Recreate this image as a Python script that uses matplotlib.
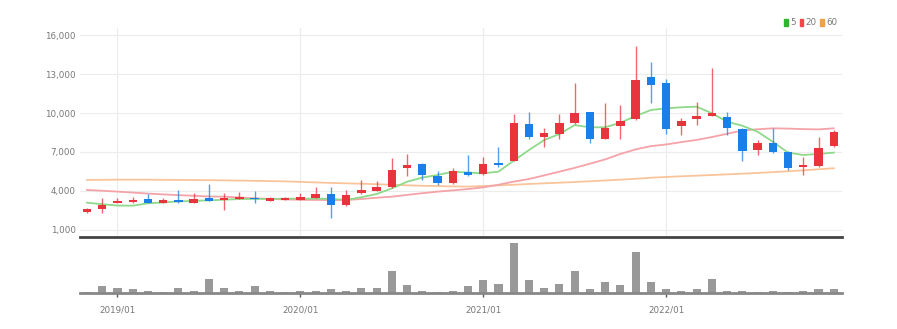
import matplotlib
matplotlib.use("Agg")
import matplotlib.pyplot as plt
from matplotlib import font_manager
from matplotlib.patches import Patch
import numpy as np

# monthly candles, 2018/11 .. 2022/12
months = [f"{y}/{m:02d}" for y in range(2018, 2023) for m in range(1, 13)][10:]
opens = [2360, 2640, 3080, 3150, 3390, 3100, 3290, 3080, 3440, 3310,
         3410, 3490, 3260, 3310, 3330, 3460, 3750, 2900, 3820, 4030,
         4290, 5750, 6050, 5130, 4590, 5490, 5280, 6180, 6310, 9150,
         8180, 8360, 9200, 10080, 8025, 9025, 9565, 12750, 12280, 9025,
         9515, 9800, 9720, 8800, 7150, 7665, 7000, 5870, 5920, 7450]
highs = [2680, 3480, 3480, 3560, 3770, 3480, 4050, 3850, 4520, 3870,
         3920, 4000, 3560, 3500, 3870, 4280, 4280, 4080, 4850, 4800,
         6560, 6850, 6180, 5540, 5750, 6770, 6640, 7410, 9920, 10080,
         8870, 9920, 12330, 10100, 10740, 10615, 15150, 13950, 12590, 9590,
         10820, 13460, 10100, 8830, 7925, 8820, 7050, 6640, 8180, 8690]
lows = [2300, 2290, 3050, 3100, 3050, 3080, 3080, 3050, 3200, 2540,
        3380, 3080, 3200, 3280, 3300, 3440, 1950, 2880, 3800, 4000,
        4250, 5150, 4850, 4460, 4560, 5150, 5250, 5870, 6280, 8000,
        7410, 7980, 9150, 7720, 7980, 7975, 9500, 10740, 8385, 8280,
        9100, 9750, 8280, 6310, 6745, 6900, 5590, 5230, 5870, 7360]
closes = [2620, 2950, 3230, 3330, 3100, 3290, 3150, 3410, 3260, 3490,
          3520, 3360, 3440, 3440, 3520, 3800, 2900, 3720, 4080, 4280,
          5590, 6000, 5230, 4590, 5520, 5230, 6050, 5975, 9210, 8180,
          8440, 9210, 9980, 8000, 8820, 9385, 12540, 12150, 8750, 9385,
          9770, 9975, 8820, 7100, 7665, 7020, 5745, 6025, 7280, 8575]
volumes = [0.7, 7, 5.3, 3.7, 2.3, 1, 5.3, 2, 14, 5,
           2, 6.7, 2.3, 0.7, 2, 2, 3.7, 2.3, 5.3, 5.3,
           22, 8, 2.3, 0.7, 2, 6.7, 13, 9, 48.7, 13,
           5.3, 9, 21.3, 4, 10.7, 7.7, 40.3, 10.7, 4, 2.3,
           4, 14, 2.3, 2.3, 1, 1.7, 1, 1.7, 4, 4]

ma5 = [3100, 2980, 2880, 2870, 3050, 3120, 3190, 3240, 3280, 3330,
       3380, 3390, 3390, 3410, 3410, 3410, 3400, 3310, 3520, 3770,
       4200, 4710, 5030, 5230, 5480, 5420, 5360, 5490, 6330, 7150,
       7920, 8380, 9070, 8900, 8900, 9250, 9770, 10230, 10360, 10440,
       10490, 9980, 9330, 9020, 8560, 7790, 6950, 6770, 6850, 6950]
ma20 = [4080, 4020, 3950, 3880, 3800, 3740, 3680, 3630, 3580, 3560,
        3500, 3440, 3390, 3350, 3320, 3310, 3300, 3310, 3380, 3480,
        3560, 3700, 3830, 3950, 4050, 4150, 4280, 4480, 4720, 4920,
        5200, 5490, 5780, 6100, 6430, 6850, 7200, 7450, 7580, 7760,
        7930, 8150, 8400, 8650, 8750, 8820, 8800, 8760, 8740, 8820]
ma60 = [4850, 4860, 4870, 4870, 4870, 4860, 4850, 4840, 4830, 4820,
        4800, 4780, 4760, 4740, 4700, 4660, 4620, 4590, 4560, 4520,
        4480, 4440, 4400, 4380, 4350, 4340, 4380, 4430, 4480, 4540,
        4590, 4640, 4690, 4750, 4810, 4870, 4940, 5020, 5080, 5130,
        5180, 5230, 5280, 5330, 5390, 5450, 5520, 5590, 5670, 5750]

price_ticks = [1000, 4000, 7000, 10000, 13000, 16000]
year_ticks = ["2019/01", "2020/01", "2021/01", "2022/01"]

UP, DOWN = "#e8343c", "#1a7fe8"

names = {f.name for f in font_manager.fontManager.ttflist}
fam = "Liberation Sans Narrow" if "Liberation Sans Narrow" in names else "DejaVu Sans"
plt.rcParams["font.family"] = [fam, "DejaVu Sans"]

W, H = 897, 329
fig = plt.figure(figsize=(W / 100, H / 100), dpi=100)
left, right = 80 / W, 842 / W
ax = fig.add_axes([left, 1 - 237 / H, right - left, (237 - 28) / H])
axv = fig.add_axes([left, 1 - 293 / H, right - left, (293 - 240) / H], sharex=ax)

x = np.arange(len(months))
o, h, l, c = map(np.array, (opens, highs, lows, closes))
colors = np.where(c >= o, UP, DOWN)

# moving averages
ax.plot(x, ma60, color="#f9c49a", lw=1.3, zorder=1)
ax.plot(x, ma20, color="#f5a3a8", lw=1.3, zorder=1)
ax.plot(x, ma5, color="#8ed98a", lw=1.3, zorder=1)

# candles
ax.vlines(x, l, h, colors=colors, lw=1, alpha=0.75, zorder=2)
body_lo = np.minimum(o, c)
body_h = np.maximum(np.abs(c - o), 40)
ax.bar(x, body_h, bottom=body_lo, width=0.55, color=colors, zorder=3)

ax.set_xlim(-0.46, 49.54)
ax.set_ylim(460, 16540)
ax.set_yticks(price_ticks)
ax.set_yticklabels([f"{v:,}" for v in price_ticks])
year_idx = [months.index(m) for m in year_ticks]
ax.set_xticks(year_idx)
ax.tick_params(axis="y", length=0, labelsize=6.3, labelcolor="#777777", pad=3)
ax.tick_params(axis="x", length=0, labelbottom=False)
ax.grid(True, color="#ececec", lw=0.8)
ax.set_axisbelow(True)
for s in ["top", "right", "left"]:
    ax.spines[s].set_visible(False)
ax.spines["bottom"].set_color("#444444")
ax.spines["bottom"].set_linewidth(2)

# volume
axv.bar(x, volumes, width=0.53, color="#999999")
axv.set_ylim(0, 52)
axv.set_yticks([])
axv.tick_params(axis="x", length=3, width=1, color="#555555", labelsize=6.3,
                labelcolor="#777777", pad=6)
axv.set_xticks(year_idx)
axv.set_xticklabels(year_ticks)
for s in ["top", "right", "left"]:
    axv.spines[s].set_visible(False)
axv.spines["bottom"].set_color("#888888")
axv.spines["bottom"].set_linewidth(2)

handles = [Patch(color="#2db52d", label="5"),
           Patch(color="#f04848", label="20"),
           Patch(color="#f0a048", label="60")]
fig.legend(handles=handles, loc="upper right", bbox_to_anchor=(842 / W, 1 - 14 / H),
           ncol=3, frameon=False, fontsize=6.3, handlelength=0.4, handleheight=0.8,
           handletextpad=0.3, columnspacing=0.4, borderpad=0, labelcolor="#777777")

fig.savefig("out.png", dpi=100, facecolor="white")
